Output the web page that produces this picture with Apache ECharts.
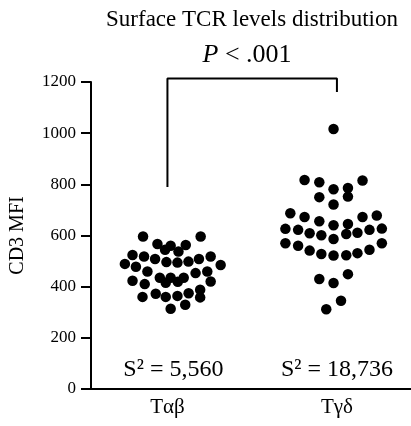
<!DOCTYPE html>
<html><head><meta charset="utf-8">
<script src="https://cdn.jsdelivr.net/npm/echarts@6/dist/echarts.min.js"></script>
<style>html,body{margin:0;padding:0;background:#fff}#c{width:411px;height:426px}</style>
</head><body><div id="c"></div>
<script>
// Categories and tick labels
const categories = ['Tαβ', 'Tγδ'];
const yTicks = [0, 200, 400, 600, 800, 1000, 1200];
const chartTitle = 'Surface TCR levels distribution';
const yName = 'CD3 MFI';
const pText = 'P < .001';
const varianceLabels = ['S² = 5,560', 'S² = 18,736'];

// Tαβ: CD3 MFI values and horizontal swarm offsets (category units)
const abValues = [596,596,567,560,563,544,537,524,518,508,496,494,498,508,518,489,478,485,459,453,459,435,435,435,415,419,423,410,420,360,372,360,364,374,388,358,314,329];
const abOffsets = [-0.144,0.196,-0.059,0.019,0.108,-0.014,0.065,-0.206,-0.138,-0.073,-0.006,0.059,0.124,0.186,0.255,-0.251,-0.186,0.314,-0.118,0.166,0.235,-0.045,0.019,0.096,-0.010,0.061,-0.206,-0.134,0.255,-0.147,-0.069,-0.010,0.059,0.125,0.193,0.193,0.019,0.105];

// Tγδ
const gdValues = [1016,817,808,781,786,815,750,752,721,687,672,656,640,645,672,678,626,622,609,601,586,606,611,622,627,570,560,541,528,522,523,531,544,570,430,414,449,345,312];
const gdOffsets = [-0.020,-0.191,-0.104,-0.020,0.065,0.151,-0.104,0.065,-0.020,-0.275,-0.191,-0.104,-0.020,0.065,0.151,0.235,-0.304,-0.229,-0.161,-0.092,-0.020,0.055,0.121,0.192,0.265,-0.304,-0.229,-0.161,-0.092,-0.020,0.055,0.121,0.192,0.265,-0.104,-0.020,0.065,0.024,-0.063];

// Significance bracket (data units) and label positions
const bracketLeftBottom = 790, bracketTop = 1214, bracketRightBottom = 1161;
const pLabelPos = [1.47, 1305];
const varianceLabelX = [1.035, 2];
const varianceLabelY = 75;

const serif = "'Liberation Serif', 'Times New Roman', serif";
const catPos = [1, 2];
const solid = {color: '#000', opacity: 1};

const chart = echarts.init(document.getElementById('c'), null, {renderer: 'canvas'});
chart.setOption({
  animation: false,
  backgroundColor: '#fff',
  title: {
    text: chartTitle, left: 247, top: 3, textAlign: 'center',
    textStyle: {fontFamily: serif, fontSize: 23, fontWeight: 'normal', color: '#000'}
  },
  grid: {left: 90, right: 0, top: 82, bottom: 37, containLabel: false},
  xAxis: {
    type: 'value', min: 0.549, max: 2.437,
    splitLine: {show: false},
    axisLine: {show: true, lineStyle: {color: '#000', width: 2}},
    axisTick: {show: false},
    axisLabel: {
      customValues: catPos,
      formatter: v => categories[Math.round(v) - 1] || '',
      fontFamily: serif, fontSize: 21, color: '#000', margin: 8
    }
  },
  yAxis: {
    type: 'value', min: 0, max: 1200, interval: 200,
    name: yName, nameLocation: 'middle', nameGap: 63, nameRotate: 90,
    nameTextStyle: {fontFamily: serif, fontSize: 20, color: '#000'},
    splitLine: {show: false},
    axisLine: {show: true, lineStyle: {color: '#000', width: 2}},
    axisTick: {show: true, length: 10, lineStyle: {color: '#000', width: 2}},
    axisLabel: {fontFamily: serif, fontSize: 17, color: '#000', margin: 15,
      formatter: v => yTicks.includes(v) ? String(v) : ''}
  },
  series: [
    {
      type: 'scatter', name: categories[0], symbolSize: 10.5,
      itemStyle: solid,
      data: abValues.map((v, i) => [catPos[0] + abOffsets[i], v])
    },
    {
      type: 'scatter', name: categories[1], symbolSize: 10.5,
      itemStyle: solid,
      data: gdValues.map((v, i) => [catPos[1] + gdOffsets[i], v])
    },
    {
      type: 'line', clip: false, symbol: 'none', silent: true,
      lineStyle: {color: '#000', width: 2, opacity: 1},
      data: [[catPos[0], bracketLeftBottom], [catPos[0], bracketTop], [catPos[1], bracketTop], [catPos[1], bracketRightBottom]]
    },
    {
      type: 'scatter', clip: false, symbolSize: 1, silent: true,
      itemStyle: {color: '#fff', opacity: 1},
      data: [pLabelPos],
      label: {
        show: true, position: 'inside',
        formatter: '{i|P} < .001',
        rich: {i: {fontFamily: serif, fontSize: 26, fontStyle: 'italic', color: '#000'}},
        fontFamily: serif, fontSize: 26, color: '#000', opacity: 1
      }
    },
    {
      type: 'scatter', clip: false, symbolSize: 1, silent: true,
      itemStyle: {color: '#fff', opacity: 1},
      data: varianceLabelX.map(x => [x, varianceLabelY]),
      label: {
        show: true, position: 'inside',
        formatter: p => varianceLabels[p.dataIndex],
        fontFamily: serif, fontSize: 24, color: '#000', opacity: 1
      }
    }
  ]
});
</script></body></html>
